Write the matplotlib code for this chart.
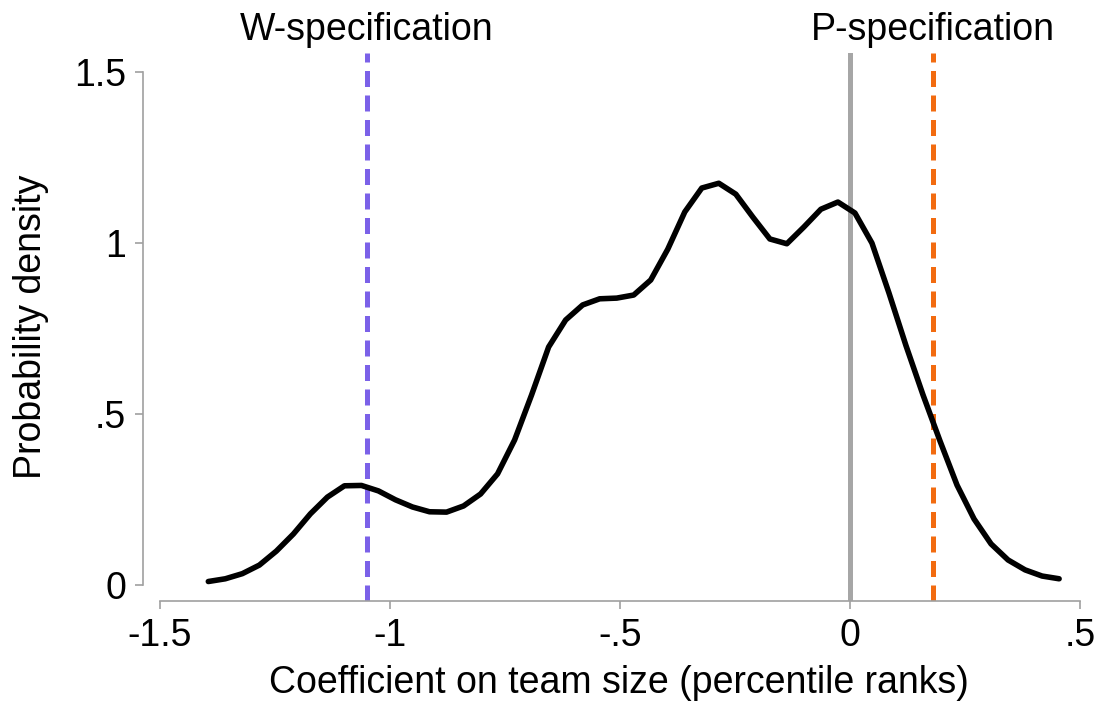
import numpy as np
import matplotlib.pyplot as plt

plt.rcParams['font.family'] = ['Liberation Sans', 'DejaVu Sans']

# kernel density of the coefficient
coef = [-1.395, -1.358, -1.321, -1.284, -1.247, -1.210, -1.173, -1.136, -1.099, -1.062,
        -1.025, -0.988, -0.951, -0.914, -0.877, -0.840, -0.803, -0.766, -0.729, -0.692,
        -0.655, -0.618, -0.581, -0.544, -0.507, -0.470, -0.433, -0.396, -0.359, -0.322,
        -0.285, -0.248, -0.211, -0.174, -0.137, -0.100, -0.063, -0.026, 0.011, 0.048,
        0.085, 0.122, 0.159, 0.196, 0.233, 0.270, 0.307, 0.344, 0.381, 0.418, 0.455]
dens = [0.010, 0.018, 0.033, 0.058, 0.099, 0.149, 0.208, 0.257, 0.290, 0.291,
        0.275, 0.249, 0.228, 0.214, 0.213, 0.231, 0.266, 0.325, 0.424, 0.556,
        0.696, 0.775, 0.819, 0.837, 0.839, 0.848, 0.892, 0.982, 1.091, 1.161,
        1.175, 1.143, 1.076, 1.012, 0.998, 1.047, 1.099, 1.120, 1.088, 1.000,
        0.854, 0.700, 0.556, 0.421, 0.292, 0.193, 0.120, 0.073, 0.044, 0.026, 0.018]

w_spec = -1.051
p_spec = 0.181
zero_line = 0

xticks = [-1.5, -1, -0.5, 0, 0.5]
xticklabels = ['-1.5', '-1', '-.5', '0', '.5']
yticks = [0, 0.5, 1, 1.5]
yticklabels = ['0', '.5', '1', '1.5']

fs = 27

fig = plt.figure(figsize=(11.04, 7.06), dpi=100)
ax = fig.add_axes([143/1104, 105/706, (1095-143)/1104, (601-53)/706])

ax.axvline(zero_line, color='#a6a6a6', lw=3.6, zorder=1)
ax.axvline(w_spec, color='#7b61e8', lw=3.6, ls=(0, (3.2, 1.7)), zorder=1)
ax.axvline(p_spec, color='#f26b10', lw=3.6, ls=(0, (3.2, 1.7)), zorder=1)
ax.plot(coef, dens, color='black', lw=4, solid_capstyle='round', zorder=3)

ax.set_xlim(-1.537, 0.533)
ax.set_ylim(-0.047, 1.556)

for s in ['top', 'right']:
    ax.spines[s].set_visible(False)
ax.spines['left'].set_bounds(0, 1.5)
ax.spines['bottom'].set_bounds(-1.5, 0.5)
for s in ['left', 'bottom']:
    ax.spines[s].set_color('#a0a0a0')
    ax.spines[s].set_linewidth(1.2)

ax.set_xticks(xticks)
ax.set_xticklabels(xticklabels)
ax.set_yticks(yticks)
ax.set_yticklabels(yticklabels)
ax.tick_params(axis='both', color='#a0a0a0', length=6, width=1.2, labelsize=fs)
ax.tick_params(axis='x', pad=6)
ax.tick_params(axis='y', pad=6)

ax.set_xlabel('Coefficient on team size (percentile ranks)', fontsize=fs, labelpad=8)
ax.set_ylabel('Probability density', fontsize=fs, labelpad=18)

ax.text(w_spec, 1.01, 'W-specification', transform=ax.get_xaxis_transform(),
        ha='center', va='bottom', fontsize=fs)
ax.text(p_spec, 1.01, 'P-specification', transform=ax.get_xaxis_transform(),
        ha='center', va='bottom', fontsize=fs)

fig.savefig('out.png', dpi=100)
